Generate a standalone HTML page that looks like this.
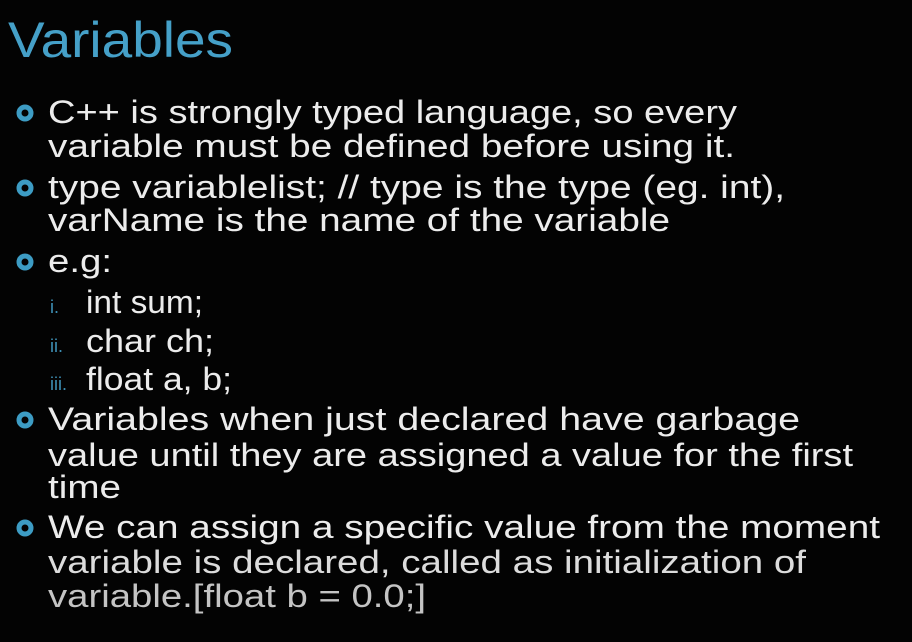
<!DOCTYPE html>
<html><head><meta charset="utf-8"><style>
html,body{margin:0;padding:0;background:#030303;}
svg{display:block}
text{font-family:"Liberation Sans",sans-serif;fill:#ececec;}
</style></head><body>
<svg width="912" height="642" viewBox="0 0 912 642" xmlns="http://www.w3.org/2000/svg">
<rect width="912" height="642" fill="#030303"/>
<text x="8" y="57" font-size="50" style="fill:#45a0c8" textLength="225" lengthAdjust="spacingAndGlyphs">Variables</text>
<g fill="none" stroke="#3d9cc4" stroke-width="5">
<circle cx="25" cy="113" r="6"/>
<circle cx="25" cy="188" r="6"/>
<circle cx="25" cy="262" r="6"/>
<circle cx="25" cy="420" r="6"/>
<circle cx="25" cy="528" r="6"/>
</g>
<g font-size="32">
<text x="48" y="123" textLength="689" lengthAdjust="spacingAndGlyphs">C++ is strongly typed language, so every</text>
<text x="48" y="157" textLength="687" lengthAdjust="spacingAndGlyphs">variable must be defined before using it.</text>
<text x="48" y="198" textLength="737" lengthAdjust="spacingAndGlyphs">type variablelist; // type is the type (eg. int),</text>
<text x="48" y="231" textLength="622" lengthAdjust="spacingAndGlyphs">varName is the name of the variable</text>
<text x="48" y="272" textLength="64" lengthAdjust="spacingAndGlyphs">e.g:</text>
<text x="86" y="313" textLength="117" lengthAdjust="spacingAndGlyphs">int sum;</text>
<text x="86" y="352" textLength="128" lengthAdjust="spacingAndGlyphs">char ch;</text>
<text x="86" y="390" textLength="146" lengthAdjust="spacingAndGlyphs">float a, b;</text>
<text x="48" y="430" textLength="752" lengthAdjust="spacingAndGlyphs">Variables when just declared have garbage</text>
<text x="48" y="466" textLength="805" lengthAdjust="spacingAndGlyphs">value until they are assigned a value for the first</text>
<text x="48" y="498" textLength="73" lengthAdjust="spacingAndGlyphs">time</text>
<text x="48" y="538" textLength="832" lengthAdjust="spacingAndGlyphs">We can assign a specific value from the moment</text>
<text x="48" y="573" textLength="758" lengthAdjust="spacingAndGlyphs" style="fill:#dcdcdc">variable is declared, called as initialization of</text>
<text x="48" y="607" textLength="378" lengthAdjust="spacingAndGlyphs" style="fill:#c4c4c4">variable.[float b = 0.0;]</text>
</g>
<g font-size="18">
<text x="50" y="313" style="fill:#3d8fb5">i.</text>
<text x="50" y="352" style="fill:#3d8fb5">ii.</text>
<text x="50" y="390" style="fill:#3d8fb5">iii.</text>
</g>
</svg>
</body></html>
